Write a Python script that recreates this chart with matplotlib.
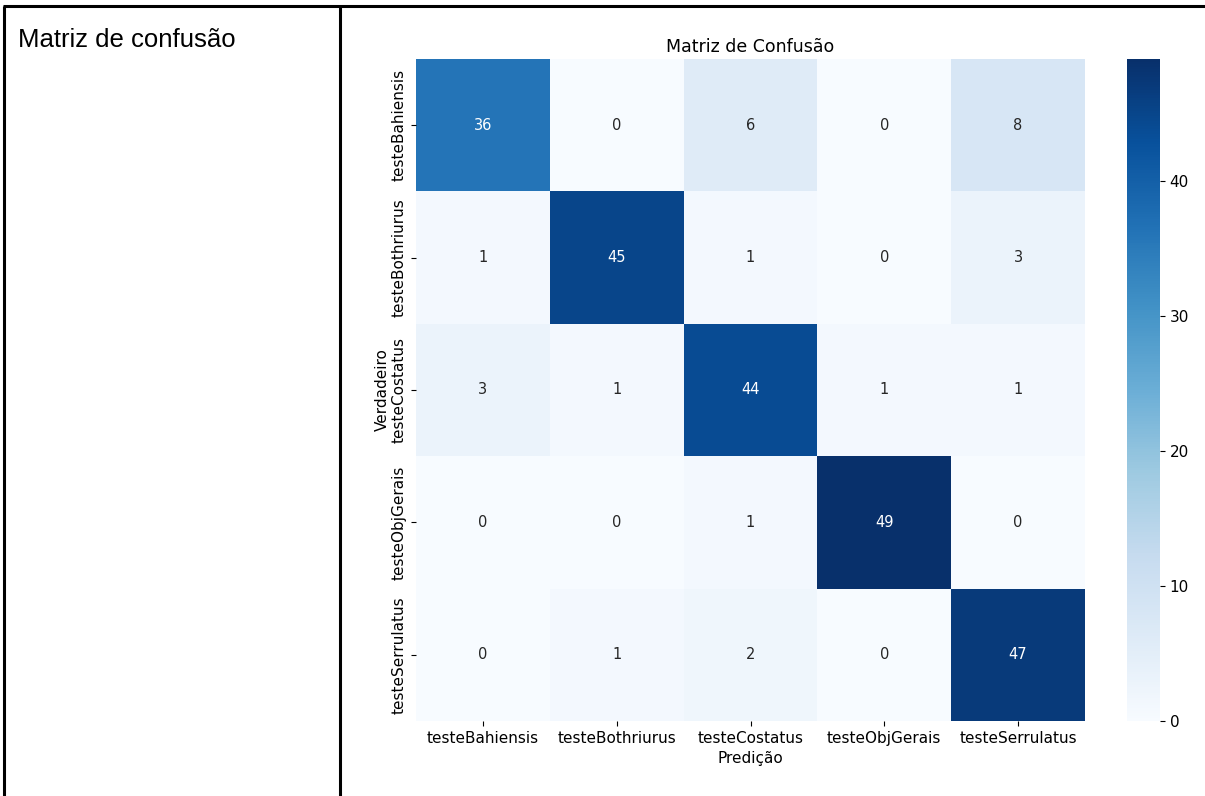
import numpy as np
import matplotlib.pyplot as plt
import seaborn as sns
from matplotlib.lines import Line2D

classes = ['testeBahiensis', 'testeBothriurus', 'testeCostatus', 'testeObjGerais', 'testeSerrulatus']
matrix = np.array([
    [36, 0, 6, 0, 8],
    [1, 45, 1, 0, 3],
    [3, 1, 44, 1, 1],
    [0, 0, 1, 49, 0],
    [0, 1, 2, 0, 47],
])

W, H = 1205, 796
fig = plt.figure(figsize=(W / 100, H / 100), dpi=100)

def px(x0, y0, x1, y1):
    # pixel box (top-left origin) -> figure fraction rect
    return [x0 / W, 1 - y1 / H, (x1 - x0) / W, (y1 - y0) / H]

# table borders of the document
for xs, ys in [((4, 4), (6, H)), ((340, 340), (6, H)), ((3, W), (6, 6))]:
    fig.add_artist(Line2D([x / W for x in xs], [1 - y / H for y in ys],
                          color='black', linewidth=2.2, solid_capstyle='butt'))

fig.text(18 / W, 1 - 47 / H, 'Matriz de confusão', family='Liberation Sans',
         fontsize=18.5, color='black', ha='left', va='baseline')

ax = fig.add_axes(px(416, 59, 1085, 721))
cax = fig.add_axes(px(1127, 59, 1160, 721))

sns.heatmap(matrix, annot=True, fmt='d', cmap='Blues', ax=ax, cbar_ax=cax,
            xticklabels=classes, yticklabels=classes,
            annot_kws={'fontsize': 10.5})

ax.set_title('Matriz de Confusão', fontsize=12.5, pad=5)
ax.set_xlabel('Predição', fontsize=11)
ax.set_ylabel('Verdadeiro', fontsize=11, labelpad=1)
ax.tick_params(axis='both', labelsize=11)
cax.tick_params(labelsize=11)

fig.savefig('out.png', dpi=100, facecolor='white')
